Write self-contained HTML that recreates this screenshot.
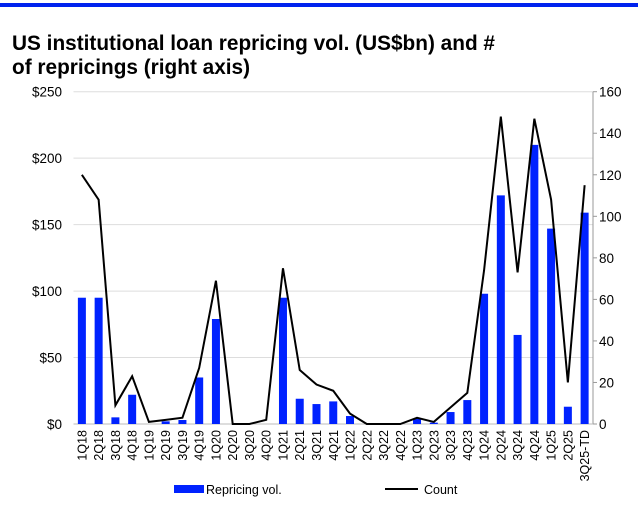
<!DOCTYPE html><html><head><meta charset="utf-8"><style>body{margin:0;background:#fff;width:638px;height:520px;overflow:hidden;font-family:"Liberation Sans",Arial,sans-serif}</style></head><body>
<svg width="638" height="520" xmlns="http://www.w3.org/2000/svg" font-family="Liberation Sans, Arial, sans-serif">
<rect x="0" y="3" width="638" height="4" fill="#0022ee"/>
<text x="12" y="50" font-size="20.8" font-weight="bold">US institutional loan repricing vol. (US$bn) and #</text>
<text x="12" y="74" font-size="20.8" font-weight="bold">of repricings (right axis)</text>
<g id="g"></g>
</svg>
<script>
const NS="http://www.w3.org/2000/svg",g=document.getElementById("g");
function el(t,a,txt){const e=document.createElementNS(NS,t);for(const k in a)e.setAttribute(k,a[k]);if(txt!=null)e.textContent=txt;g.appendChild(e);return e;}
const x0=73.5,x1=593,y0=424,yt=91.7,H=y0-yt,n=31,w=(x1-x0)/n;
for(let i=0;i<=5;i++){const y=y0-H*i/5;el("line",{x1:x0,x2:x1,y1:y,y2:y,stroke:"#ddd","stroke-width":1});el("text",{x:62,y:y+5,"font-size":13.5,"text-anchor":"end"},"$"+i*50);}
for(let i=0;i<=8;i++){const y=y0-H*i/8;el("line",{x1:x1,x2:x1+4,y1:y,y2:y,stroke:"#999"});el("text",{x:599,y:y+5,"font-size":13.5},i*20);}
el("line",{x1:x1,x2:x1,y1:yt,y2:y0,stroke:"#999"});
el("line",{x1:x0,x2:x1,y1:y0,y2:y0,stroke:"#bbb"});
const v=[95,95,5,22,0,2,3,35,79,0,0,0,95,19,15,17,6,0,0,0,4,1,9,18,98,172,67,210,147,13,159];
const c=[120,108,9,23,1,2,3,27,69,0,0,2,75,26,19,16,5,0,0,0,3,1,8,15,74,148,73,147,108,20,115];
const lab=[];for(let y=18;y<=24;y++)for(let q=1;q<=4;q++)lab.push(q+"Q"+y);lab.push("1Q25","2Q25","3Q25-TD");
let pts=[];
v.forEach((d,i)=>{const cx=x0+w*(i+0.5);const h=H*d/250;if(d>0)el("rect",{x:cx-4,y:y0-h,width:8,height:h,fill:"#0022ff"});
pts.push(cx+","+(y0-H*c[i]/160));
el("text",{x:0,y:0,"font-size":12.5,"text-anchor":"end",transform:`translate(${cx+4.5},${y0+6}) rotate(-90)`},lab[i]);});
el("polyline",{points:pts.join(" "),fill:"none",stroke:"#000","stroke-width":2});
el("rect",{x:174,y:485,width:30,height:8,fill:"#0022ff"});
el("text",{x:206,y:494,"font-size":12.5},"Repricing vol.");
el("line",{x1:385,x2:418,y1:489,y2:489,stroke:"#000","stroke-width":2});
el("text",{x:424,y:494,"font-size":12.5},"Count");
</script></body></html>
